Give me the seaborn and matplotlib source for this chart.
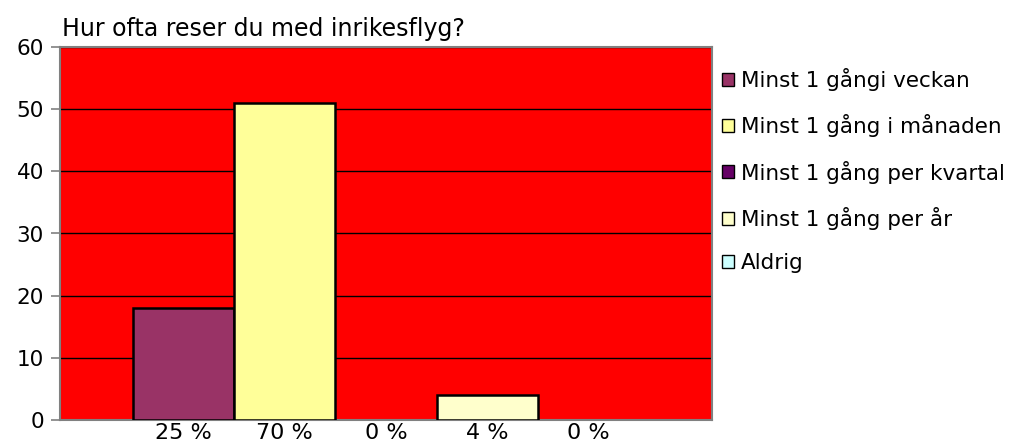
import matplotlib
matplotlib.use("Agg")
import matplotlib.pyplot as plt
import seaborn as sns
import pandas as pd
from matplotlib.patches import Patch

# Survey answers: how often do you travel by domestic flight?
categories = ["Minst 1 gångi veckan", "Minst 1 gång i månaden",
              "Minst 1 gång per kvartal", "Minst 1 gång per år", "Aldrig"]
counts = [18, 51, 0, 4, 0]
percent_labels = ["25 %", "70 %", "0 %", "4 %", "0 %"]
bar_colors = ["#993366", "#FFFF99", "#660066", "#FFFFCC", "#CCFFFF"]

df = pd.DataFrame({"svar": categories, "antal": counts})

sns.set_style("white")
plt.rcParams["font.family"] = ["DejaVu Sans"]
plt.rcParams["text.color"] = "black"
plt.rcParams["xtick.color"] = "black"
plt.rcParams["ytick.color"] = "black"

fig = plt.figure(figsize=(10.19, 4.44), dpi=100)
ax = fig.add_axes([60 / 1019, 24 / 444, 652 / 1019, 373 / 444])

sns.barplot(data=df, x="svar", y="antal", hue="svar", order=categories,
            hue_order=categories, palette=bar_colors, saturation=1, width=1.0,
            edgecolor="black", linewidth=1.8, legend=False, ax=ax, zorder=3)

# empty categories get no outline along the baseline
for bar in ax.patches:
    if bar.get_height() == 0:
        bar.set_linewidth(0)

ax.set_facecolor("#FF0000")
ax.set_xlim(-1.22, 5.22)
ax.set_ylim(0, 60)
ax.set_yticks(range(0, 61, 10))
ax.yaxis.grid(True, color="black", linewidth=1, zorder=1)
ax.set_axisbelow(True)
ax.set_xticks(range(len(categories)))
ax.set_xticklabels(percent_labels, fontsize=16)
ax.tick_params(axis="x", length=0, pad=2.5, labelcolor="black")
ax.tick_params(axis="y", labelsize=15.5, length=6.5, width=1.2, color="#808080",
               labelcolor="black", direction="out", left=True, pad=5)
ax.set_xlabel("")
ax.set_ylabel("")
for side in ax.spines.values():
    side.set_color("#808080")
    side.set_linewidth(1.5)

fig.text(62 / 1019, 1 - 29 / 444, "Hur ofta reser du med inrikesflyg?",
         fontsize=17, ha="left", va="center", color="black")

handles = [Patch(facecolor=c, edgecolor="black", linewidth=1.0) for c in bar_colors]
fig.legend(handles, categories, loc="upper left",
           bbox_to_anchor=(722 / 1019, 1 - 68 / 444), frameon=False,
           fontsize=15.5, handlelength=0.56, handleheight=0.56,
           handletextpad=0.33, labelspacing=1.08, borderaxespad=0,
           borderpad=0, labelcolor="black")

fig.savefig("out.png", dpi=100)
